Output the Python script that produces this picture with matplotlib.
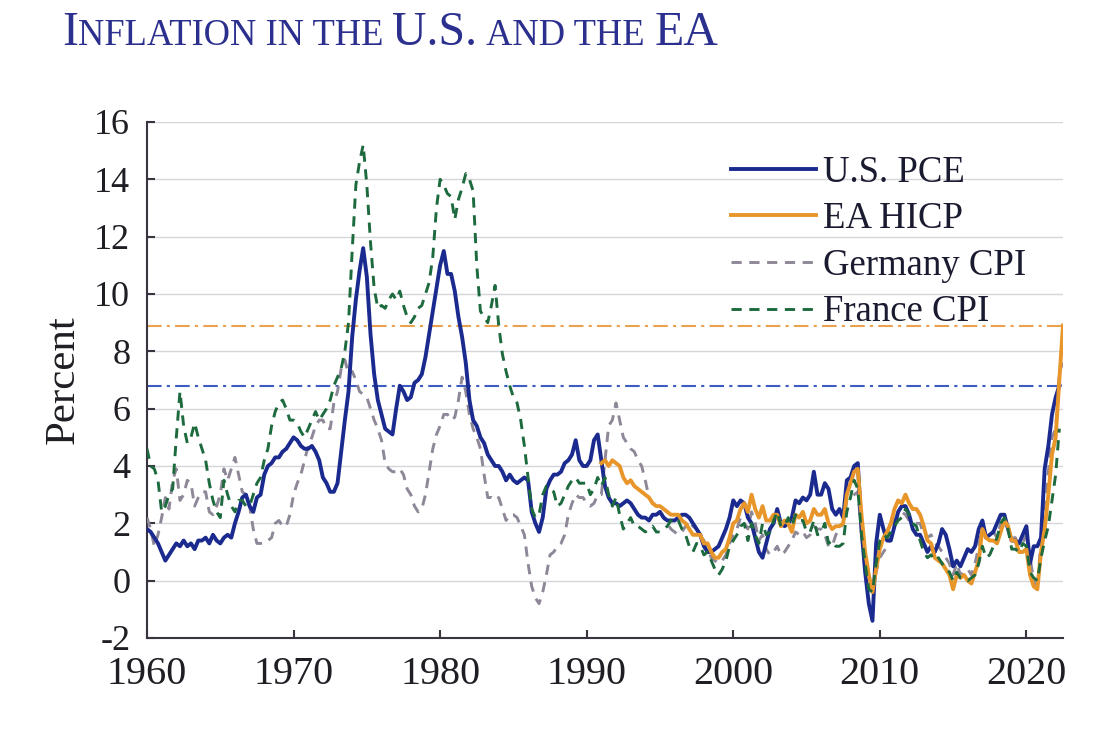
import numpy as np
import matplotlib
matplotlib.use("Agg")
import matplotlib.pyplot as plt

# ---------------- data (quarterly, year-over-year %) ----------------
us_start = 1960.0
us_pce = [
    1.8, 1.7, 1.5, 1.3,   1.0, 0.7, 0.9, 1.1,   1.3, 1.2, 1.4, 1.2,   1.3, 1.1, 1.4, 1.4,
    1.5, 1.3, 1.6, 1.4,   1.3, 1.5, 1.6, 1.5,   2.0, 2.4, 2.9, 3.0,   2.6, 2.4, 2.9, 3.0,
    3.7, 4.0, 4.1, 4.3,   4.3, 4.5, 4.6, 4.8,   5.0, 4.9, 4.7, 4.6,   4.6, 4.7, 4.5, 4.2,
    3.6, 3.4, 3.1, 3.1,   3.4, 4.5, 5.6, 6.6,   8.5, 9.8, 10.8, 11.6, 10.6, 8.6, 7.2, 6.3,
    5.8, 5.3, 5.2, 5.1,   6.0, 6.8, 6.6, 6.3,   6.4, 6.9, 7.0, 7.2,   7.8, 8.6, 9.4, 10.2,
    11.0, 11.5, 10.7, 10.7, 10.1, 9.2, 8.5, 7.6, 6.3, 5.6, 5.4, 5.0,  4.8, 4.4, 4.2, 4.0,
    4.0, 3.8, 3.5, 3.7,   3.5, 3.4, 3.5, 3.6,   3.5, 2.4, 2.0, 1.7,   2.2, 3.2, 3.5, 3.7,
    3.7, 3.8, 4.1, 4.2,   4.4, 4.9, 4.2, 4.0,   4.0, 4.2, 4.9, 5.1,   4.2, 3.3, 2.9, 2.7,
    2.7, 2.6, 2.7, 2.8,   2.7, 2.5, 2.3, 2.2,   2.2, 2.1, 2.3, 2.3,   2.4, 2.2, 2.1, 2.1,
    2.1, 2.2, 2.3, 2.3,   2.2, 2.0, 1.8, 1.6,   1.2, 1.0, 1.0, 1.1,   1.2, 1.5, 1.8, 2.2,
    2.8, 2.6, 2.8, 2.7,   2.2, 2.0, 1.5, 1.0,   0.8, 1.3, 1.8, 2.0,   2.5, 2.0, 1.9, 2.0,
    2.2, 2.8, 2.7, 2.9,   2.8, 3.0, 3.8, 3.0,   3.0, 3.4, 3.2, 2.5,   2.3, 2.5, 2.2, 3.5,
    3.6, 4.0, 4.1, 1.8,   0.3, -0.8, -1.4, 1.3, 2.3, 1.8, 1.4, 1.4,   1.9, 2.4, 2.6, 2.6,
    2.3, 1.8, 1.6, 1.6,   1.3, 1.0, 1.2, 1.0,   1.3, 1.8, 1.6, 1.1,   0.5, 0.7, 0.5, 0.8,
    1.1, 1.0, 1.2, 1.8,   2.1, 1.5, 1.6, 1.7,   2.0, 2.3, 2.3, 1.8,   1.4, 1.4, 1.3, 1.6,
    1.9, 0.6, 1.2, 1.2,   1.5, 3.9, 4.7, 5.8,   6.4, 6.8,
]

ea_start = 1991.0
ea_hicp = [
    4.1, 4.2, 4.0, 4.2,   4.1, 4.0, 3.6, 3.4,   3.5, 3.3, 3.2, 3.1,   3.0, 2.9, 2.7, 2.6,
    2.6, 2.5, 2.4, 2.3,   2.3, 2.3, 2.1, 2.0,   1.8, 1.6, 1.6, 1.6,   1.3, 1.3, 1.0, 0.8,
    0.8, 1.0, 1.1, 1.5,   2.0, 2.1, 2.5, 2.7,   2.4, 3.0, 2.5, 2.2,   2.6, 2.1, 2.1, 2.3,
    2.3, 1.9, 2.1, 2.0,   1.7, 2.3, 2.2, 2.4,   2.0, 2.1, 2.5, 2.3,   2.3, 2.5, 2.0, 1.8,
    1.9, 1.9, 2.0, 3.0,   3.4, 3.8, 3.9, 2.3,   1.0, 0.2, -0.4, 0.4,  1.1, 1.5, 1.7, 2.0,
    2.5, 2.8, 2.7, 3.0,   2.7, 2.5, 2.5, 2.3,   1.9, 1.4, 1.3, 0.8,   0.7, 0.6, 0.4, 0.2,
    -0.3, 0.2, 0.1, 0.2,  0.0, -0.1, 0.3, 0.7,  1.8, 1.5, 1.4, 1.4,   1.3, 1.7, 2.1, 1.9,
    1.4, 1.4, 1.0, 1.0,   1.1, 0.2, -0.2, -0.3, 1.0, 1.8, 3.0, 4.4,   5.0, 7.0, 8.9,
]

de_start = 1960.0
germany_cpi = [
    2.2, 1.8, 1.2, 1.6,   2.2, 2.9, 2.5, 3.5,   3.9, 2.8, 3.0, 3.5,   3.4, 2.6, 2.9, 3.1,
    3.1, 2.4, 2.3, 2.6,   3.0, 3.9, 3.5, 3.9,   4.3, 3.7, 3.1, 3.0,   2.6, 1.8, 1.3, 1.3,
    1.3, 1.4, 1.5, 2.0,   2.1, 1.9, 1.9, 2.3,   3.0, 3.4, 3.7, 4.2,   4.7, 5.0, 5.4, 5.6,
    5.6, 5.3, 5.3, 6.2,   6.6, 7.4, 7.7, 7.2,   7.3, 7.0, 6.6, 6.5,   6.4, 6.0, 5.6, 5.3,
    4.9, 4.1, 3.9, 3.8,   3.8, 3.9, 3.7, 3.2,   3.0, 2.6, 2.4, 2.5,   3.0, 3.8, 4.6, 5.1,
    5.4, 5.8, 5.8, 5.6,   5.7, 6.3, 7.1, 6.6,   5.8, 5.3, 5.0, 4.6,   3.7, 2.9, 2.9, 2.8,
    2.9, 2.5, 2.1, 2.3,   2.3, 2.2, 1.9, 1.6,   0.6, -0.2, -0.6, -0.8, -0.4, 0.2, 0.9, 1.0,
    1.2, 1.3, 1.6, 2.3,   2.7, 3.0, 2.9, 2.9,   2.7, 2.6, 2.7, 3.0,   3.0, 4.2, 5.4, 5.6,
    6.2, 5.6, 5.0, 4.8,   4.6, 4.5, 4.2, 4.0,   3.5, 2.9, 2.7, 2.6,   2.4, 2.2, 2.0, 1.8,
    1.7, 1.6, 1.7, 1.9,   2.1, 1.9, 1.8, 1.6,   1.4, 1.1, 0.8, 0.7,   0.6, 0.7, 0.9, 1.3,
    1.6, 1.8, 2.2, 2.0,   1.8, 2.4, 2.0, 1.4,   1.6, 1.1, 0.9, 1.0,   1.2, 0.9, 1.0, 1.2,
    1.4, 1.7, 1.6, 1.7,   1.5, 1.6, 1.9, 1.8,   1.8, 1.6, 1.2, 1.2,   1.6, 1.8, 2.0, 2.8,
    2.9, 3.0, 3.1, 1.7,   0.8, 0.2, -0.4, 0.3,  0.8, 1.0, 1.2, 1.5,   2.1, 2.3, 2.4, 2.3,
    2.1, 2.0, 2.0, 2.0,   1.6, 1.5, 1.6, 1.3,   1.2, 1.0, 0.8, 0.6,   0.2, 0.6, 0.2, 0.3,
    0.4, 0.2, 0.6, 1.2,   1.9, 1.6, 1.7, 1.7,   1.5, 2.0, 2.2, 1.9,   1.5, 1.5, 1.2, 1.3,
    1.6, 0.8, 0.0, -0.3,  1.5, 2.2, 3.8, 5.0,   5.3, 7.3, 7.6,
]

fr_start = 1960.0
france_cpi = [
    4.6, 4.0, 3.9, 3.5,   2.4, 2.6, 3.0, 3.2,   5.0, 6.6, 5.4, 4.8,   5.0, 5.5, 5.0, 4.6,
    4.2, 3.4, 2.8, 2.4,   2.2, 3.5, 3.0, 2.6,   2.4, 2.8, 2.8, 2.6,   2.6, 3.0, 3.4, 3.6,
    4.2, 4.6, 5.4, 5.9,   6.2, 6.3, 6.0, 5.6,   5.6, 5.5, 5.2, 5.0,   5.3, 5.6, 5.9, 5.6,
    5.8, 6.0, 6.3, 6.8,   7.1, 7.4, 8.0, 9.0,   11.5, 13.8, 14.6, 15.2, 13.8, 11.8, 10.2, 9.5,
    9.6, 9.5, 9.8, 10.0,  9.8, 10.1, 9.6, 9.2,  9.0, 9.2, 9.5, 9.6,   10.0, 10.4, 11.3, 13.0,
    14.0, 13.8, 13.5, 13.4, 12.6, 13.3, 13.7, 14.2, 14.0, 13.6, 11.0, 9.4, 9.2, 9.0, 9.6, 10.3,
    8.9, 7.9, 7.3, 6.8,   6.4, 6.2, 5.6, 4.7,   3.6, 2.5, 2.2, 2.3,   3.0, 3.3, 3.2, 3.1,
    2.6, 2.7, 3.0, 3.3,   3.5, 3.6, 3.4, 3.4,   3.4, 3.0, 3.2, 3.6,   3.3, 3.6, 3.0, 2.6,
    2.9, 2.3, 1.8, 2.0,   2.2, 1.9, 1.9, 1.8,   1.7, 1.8, 1.9, 1.7,   1.7, 1.8, 1.9, 2.1,
    2.2, 2.1, 1.8, 1.6,   1.2, 1.0, 1.3, 1.2,   0.9, 1.0, 0.7, 0.4,   0.2, 0.4, 0.7, 1.2,
    1.4, 1.6, 1.9, 2.0,   1.4, 2.0, 1.6, 1.3,   2.0, 1.6, 1.7, 2.1,   2.4, 1.9, 1.9, 2.2,
    1.9, 2.3, 2.1, 2.1,   1.7, 1.7, 2.1, 1.6,   1.7, 2.0, 1.3, 1.4,   1.2, 1.2, 1.3, 2.4,
    2.9, 3.5, 3.2, 1.6,   0.6, -0.3, -0.4, 0.6, 1.4, 1.6, 1.5, 1.7,   1.9, 2.1, 2.2, 2.5,
    2.3, 2.0, 1.9, 1.4,   1.0, 0.8, 0.9, 0.7,   0.8, 0.6, 0.4, 0.3,   0.0, 0.3, 0.1, 0.1,
    0.0, 0.1, 0.2, 0.6,   1.2, 0.8, 0.9, 1.2,   1.5, 2.0, 2.2, 1.8,   1.1, 1.1, 1.0, 1.3,
    1.2, 0.3, 0.1, 0.0,   0.8, 1.4, 1.9, 2.8,   3.7, 5.3,
]

ea_latest = 8.9   # latest EA HICP reading (reference line)
us_latest = 6.8   # latest U.S. PCE reading (reference line)

series_labels = ["U.S. PCE", "EA HICP", "Germany CPI", "France CPI"]
title_parts = [("I", True), ("NFLATION IN THE", False), (" ", False), ("U.S.", True),
               (" ", False), ("AND THE", False), (" ", False), ("EA", True)]
x_ticks = [1960, 1970, 1980, 1990, 2000, 2010, 2020]
y_ticks = [-2, 0, 2, 4, 6, 8, 10, 12, 14, 16]


def qdates(start, n):
    return start + np.arange(n) / 4.0


# ---------------- figure ----------------
plt.rcParams['font.family'] = ['Liberation Serif', 'DejaVu Serif']
fig = plt.figure(figsize=(10.98, 7.30), dpi=100)
fig.patch.set_facecolor('white')
ax = fig.add_axes([147 / 1098, 1 - 638 / 730, (1063 - 147) / 1098, (638 - 122) / 730])

c_us = '#1b2a8f'
c_ea = '#e8962a'
c_de = '#8e8797'
c_fr = '#1d6a3e'

ax.axhline(ea_latest, color='#e9a24e', lw=1.5, dashes=(7, 2.5, 1.5, 2.5), zorder=2)
ax.axhline(us_latest, color='#3d5cc2', lw=1.5, dashes=(7, 2.5, 1.5, 2.5), zorder=2)

l_de, = ax.plot(qdates(de_start, len(germany_cpi)), germany_cpi, color=c_de, lw=2.1,
                dashes=(3.5, 2.6), zorder=3, label=series_labels[2])
l_us, = ax.plot(qdates(us_start, len(us_pce)), us_pce, color=c_us, lw=2.8,
                zorder=4, label=series_labels[0])
l_ea, = ax.plot(qdates(ea_start, len(ea_hicp)), ea_hicp, color=c_ea, lw=2.8,
                zorder=5, label=series_labels[1])
l_fr, = ax.plot(qdates(fr_start, len(france_cpi)), france_cpi, color=c_fr, lw=2.1,
                dashes=(3.5, 2.6), zorder=6, label=series_labels[3])

ax.set_xlim(1960, 2022.5)
ax.set_ylim(-2, 16)
ax.set_xticks(x_ticks)
ax.set_yticks(y_ticks)
ax.set_yticklabels([str(v) for v in y_ticks])
ax.grid(axis='y', color='#d4d6da', lw=1.0, zorder=0)
ax.set_axisbelow(True)
for s in ['top', 'right']:
    ax.spines[s].set_visible(False)
for s in ['left', 'bottom']:
    ax.spines[s].set_color('#3a3340')
    ax.spines[s].set_linewidth(1.5)
ax.tick_params(axis='both', direction='in', length=6, width=1.5, color='#3a3340',
               labelcolor='#1e1e24')
ax.tick_params(axis='y', labelsize=26, pad=12)
ax.tick_params(axis='x', labelsize=29, pad=13)
ax.set_ylabel('Percent', fontsize=31, color='#1e1e24', labelpad=8)

leg = ax.legend(handles=[l_us, l_ea, l_de, l_fr], loc='upper left',
                bbox_to_anchor=((731 - 147) / (1063 - 147), 1 - (155 - 122) / (638 - 122)),
                frameon=False, fontsize=26.5, handlelength=2.3, handletextpad=0.2,
                labelspacing=0.33, borderaxespad=0, borderpad=0)
for t in leg.get_texts():
    t.set_color('#1a1a30')

# ---------------- small-caps title ----------------
fig.canvas.draw()
renderer = fig.canvas.get_renderer()
x = 62 / 1098
y = 1 - 45 / 730
big, small = 34.5, 26.3
for txt, is_big in title_parts:
    size = big if is_big else small
    if txt == " ":
        probe = fig.text(0, 0, "N N", fontsize=size)
        probe2 = fig.text(0, 0, "NN", fontsize=size)
        w = (probe.get_window_extent(renderer).width - probe2.get_window_extent(renderer).width)
        probe.remove(); probe2.remove()
        x += w / fig.bbox.width
        continue
    t = fig.text(x, y, txt, fontsize=size, color='#2b2f8e', va='baseline', ha='left')
    x += t.get_window_extent(renderer).width / fig.bbox.width

fig.savefig('out.png', dpi=100, facecolor='white')
